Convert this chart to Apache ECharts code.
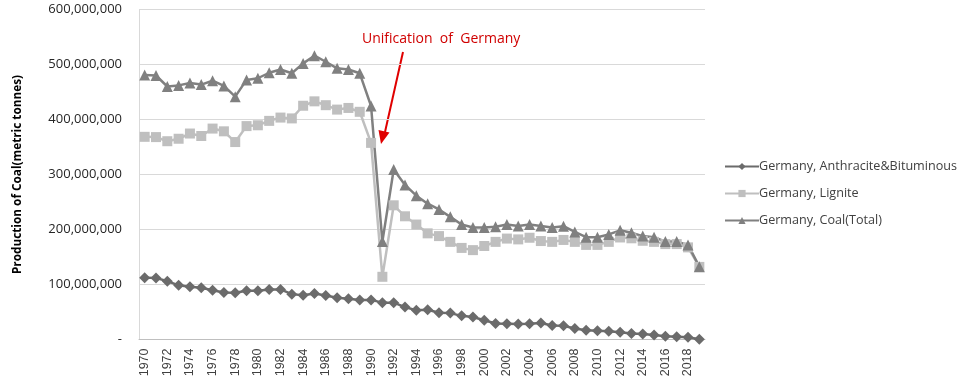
<!DOCTYPE html>
<html>
<head>
<meta charset="utf-8">
<script src="https://cdn.jsdelivr.net/npm/echarts@6/dist/echarts.min.js"></script>
<style>
html,body{margin:0;padding:0;background:#fff;}
#c{width:963px;height:388px;}
</style>
</head>
<body>
<div id="c"></div>
<script>
const years = [];
for (let y = 1970; y <= 2019; y++) years.push(String(y));

// values in millions of metric tonnes
const anthraciteM = [112.5,112,106,98.5,96,94,89.5,85.5,85,88.5,88.5,91,91,82.5,80.5,83.5,80,76,74,72,72,67,67,59,53,54,48.5,48,43,41,35,29,28.5,28,28.5,30,25.5,25,20,17,16,15,13,11,10,8,6,5,4,0.5];
const ligniteM = [368.5,368,360.5,365,374.5,370,383.5,378.5,359,388,389.5,397.5,403.5,402,425,433,426,418,421,414,357.5,114,244,224,209,193,188,177.5,166.5,162.5,170,177.5,183.5,182,185,179,177.5,181,177.5,172,172,177.5,185.5,184,179.5,177.5,173.5,173.5,167.5,132];
const totalM = [481,480,460,462,466.5,463.5,470.5,461,441.5,472,475,485,491,484,502,516,505,493,491,484,424.5,178,309,281,261.5,247,236.5,223,209,203.5,203.5,205,209,206.5,209,206.5,203.5,206,195.5,186,186,191,198.5,194,188,186,178,178,172,132.5];

const seriesNames = ['Germany, Anthracite&Bituminous','Germany, Lignite','Germany, Coal(Total)'];
const yTicks = [0,100000000,200000000,300000000,400000000,500000000,600000000];

const toT = a => a.map(v => Math.round(v * 1e6));

const chart = echarts.init(document.getElementById('c'), null, {renderer:'canvas'});
const fmt = v => v === 0 ? '-' : v.toLocaleString('en-US');

chart.setOption({
  animation:false,
  backgroundColor:'#ffffff',
  grid:{left:139, right:258, top:9.5, bottom:48.5, containLabel:false},
  legend:{
    orient:'vertical', left:719, top:155, itemGap:14,
    itemWidth:34, itemHeight:9,
    textStyle:{fontFamily:'Open Sans', fontSize:12.6, color:'#404040', padding:[0,0,0,-5]},
    data:seriesNames
  },
  xAxis:{
    type:'category', data:years, boundaryGap:true,
    axisLine:{show:true, lineStyle:{color:'#bfbfbf', width:1}},
    axisTick:{show:false},
    axisLabel:{interval:1, rotate:90, fontFamily:'Liberation Sans', fontSize:12.5, color:'#404040', margin:9}
  },
  yAxis:{
    type:'value', min:yTicks[0], max:yTicks[yTicks.length-1], interval:yTicks[1]-yTicks[0],
    name:'Production of Coal(metric tonnes)', nameLocation:'middle', nameGap:115,
    nameTextStyle:{fontFamily:'Open Sans', fontWeight:'bold', fontSize:11.8, color:'#000'},
    axisLine:{show:true, lineStyle:{color:'#d9d9d9'}},
    axisTick:{show:false},
    splitLine:{lineStyle:{color:'#d9d9d9', width:1}},
    axisLabel:{formatter:fmt, fontFamily:'Open Sans', fontSize:13, color:'#262626', margin:17}
  },
  series:[
    {name:seriesNames[0], type:'line', data:toT(anthraciteM), symbol:'diamond', symbolSize:11, showAllSymbol:true,
     lineStyle:{color:'#6b6b6b', width:2.5}, itemStyle:{color:'#6b6b6b'}},
    {name:seriesNames[1], type:'line', data:toT(ligniteM), symbol:'rect', symbolSize:10, showAllSymbol:true,
     lineStyle:{color:'#bfbfbf', width:2.5}, itemStyle:{color:'#bfbfbf'}},
    {name:seriesNames[2], type:'line', data:toT(totalM), symbol:'triangle', symbolSize:11, showAllSymbol:true,
     lineStyle:{color:'#808080', width:2.5}, itemStyle:{color:'#808080'}}
  ],
  graphic:[
    {type:'text', left:362, top:32, style:{text:'Unification  of  Germany', fill:'#d00000', font:'14px "Open Sans"'}},
    {type:'line', shape:{x1:403, y1:52, x2:385, y2:132}, style:{stroke:'#e00000', lineWidth:2}},
    {type:'polygon', shape:{points:[[381,144],[378.5,130],[389.5,132.5]]}, style:{fill:'#e00000'}}
  ]
});
</script>
</body>
</html>
